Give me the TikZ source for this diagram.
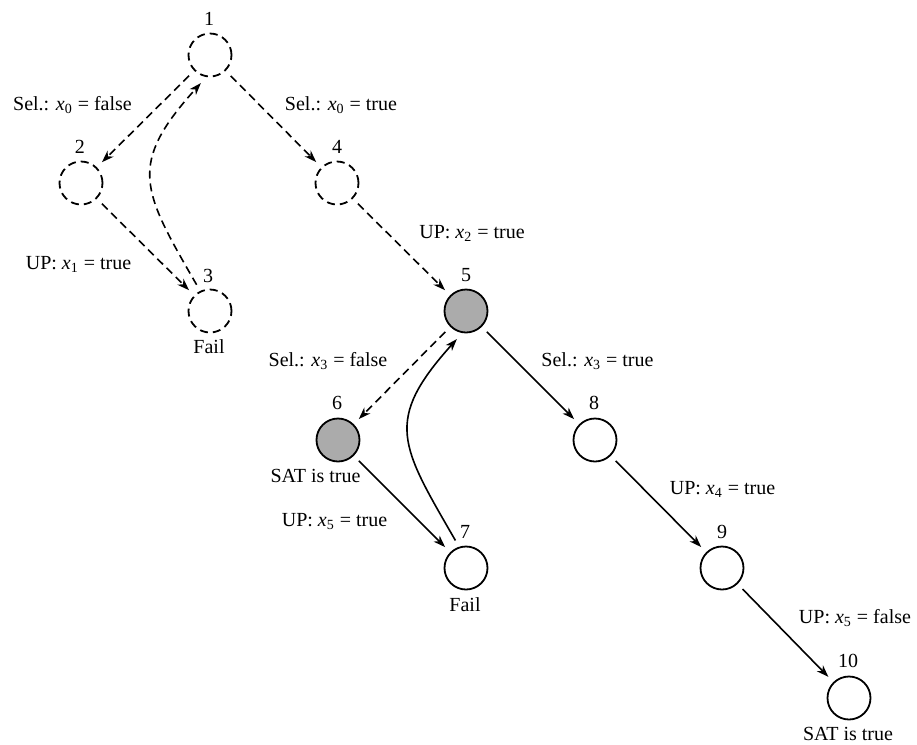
\documentclass[tikz,border=0pt]{standalone}
\usepackage{fontspec}
\setmainfont{Liberation Serif}
\usetikzlibrary{arrows.meta}
\begin{document}
\begin{tikzpicture}[x=0.5pt,y=0.5pt,
  every node/.style={font=\fontsize{10}{12}\selectfont},
  state/.style={circle,draw,line width=0.9pt,minimum size=21.5pt,inner sep=0pt,outer sep=4pt},
  pruned/.style={state,dash pattern=on 4pt off 2.5pt},
  visited/.style={state,fill=black!33},
  fresh/.style={state,fill=white},
  txt/.style={anchor=base,inner sep=0pt,outer sep=0pt},
  edge/.style={line width=0.8pt,-{Stealth[length=6pt,width=4.2pt,inset=1.8pt]}},
  dedge/.style={edge,dash pattern=on 4pt off 2.5pt}]
\useasboundingbox (0,0) rectangle (917,-745);

% search states
\node[pruned]  (n1)  at (210,-55)  {};
\node[pruned]  (n2)  at (81,-183)  {};
\node[pruned]  (n3)  at (210,-311) {};
\node[pruned]  (n4)  at (337,-183) {};
\node[visited] (n5)  at (466,-311) {};
\node[visited] (n6)  at (338,-440) {};
\node[fresh]   (n7)  at (466,-568) {};
\node[fresh]   (n8)  at (595,-440) {};
\node[fresh]   (n9)  at (722,-568) {};
\node[fresh]   (n10) at (849,-698) {};

% state numbers
\node[txt] (k1)  at (209,-25)  {1};
\node[txt] (k2)  at (80,-153)  {2};
\node[txt] (k3)  at (208,-282) {3};
\node[txt] (k4)  at (337,-153) {4};
\node[txt] (k5)  at (466,-281) {5};
\node[txt] (k6)  at (337,-409) {6};
\node[txt] (k7)  at (465,-538) {7};
\node[txt] (k8)  at (594,-409) {8};
\node[txt] (k9)  at (722,-538) {9};
\node[txt] (k10) at (848,-667) {10};

% outcomes
\node[txt] (o3)  at (209,-353)   {Fail};
\node[txt] (o6)  at (315.5,-482) {SAT is true};
\node[txt] (o7)  at (465,-611)   {Fail};
\node[txt] (o10) at (848,-740)   {SAT is true};

% decisions and propagations
\node[txt] (l12)  at (72.5,-110)  {Sel.: \textit{x}\textsubscript{0} = false};
\node[txt] (l14)  at (341,-110)   {Sel.: \textit{x}\textsubscript{0} = true};
\node[txt] (l23)  at (78.5,-269)  {UP: \textit{x}\textsubscript{1} = true};
\node[txt] (l45)  at (472,-238)   {UP: \textit{x}\textsubscript{2} = true};
\node[txt] (l56)  at (328,-366)   {Sel.: \textit{x}\textsubscript{3} = false};
\node[txt] (l58)  at (597.5,-366) {Sel.: \textit{x}\textsubscript{3} = true};
\node[txt] (l67)  at (334.5,-526) {UP: \textit{x}\textsubscript{5} = true};
\node[txt] (l89)  at (722.5,-494) {UP: \textit{x}\textsubscript{4} = true};
\node[txt] (l910) at (855,-623)   {UP: \textit{x}\textsubscript{5} = false};

% abandoned branch
\draw[dedge] (n1) -- (n2);
\draw[dedge] (n2) -- (n3);
\draw[dedge] (n3.117) .. controls +(120:110) and +(228:110) .. (n1.252);
\draw[dedge] (n1) -- (n4);
\draw[dedge] (n4) -- (n5);
\draw[dedge] (n5) -- (n6);

% current branch
\draw[edge] (n6) -- (n7);
\draw[edge] (n7.111) .. controls +(120:110) and +(228:110) .. (n5.252);
\draw[edge] (n5) -- (n8);
\draw[edge] (n8) -- (n9);
\draw[edge] (n9) -- (n10);
\end{tikzpicture}
\end{document}
